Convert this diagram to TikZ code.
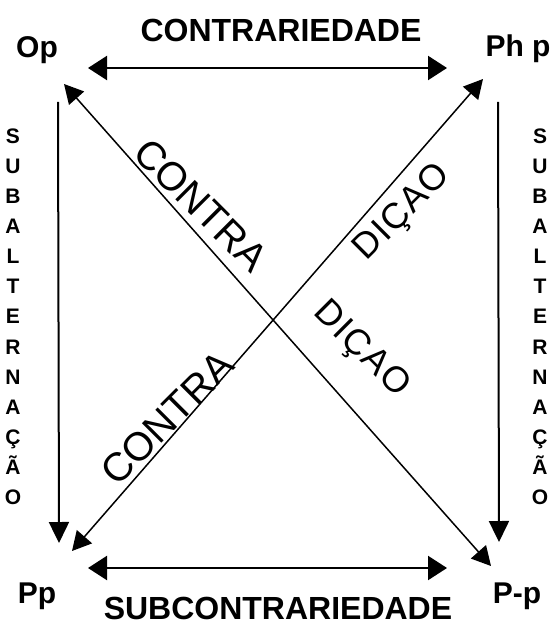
\documentclass[tikz,border=0pt]{standalone}
\usepackage{fontspec}
\setmainfont{Liberation Sans}
\newfontfamily\spacedfont[LetterSpace=4]{Liberation Sans}
\usetikzlibrary{arrows.meta}
\begin{document}
\begin{tikzpicture}[x=1pt,y=-1pt,
  corner/.style={font=\bfseries\fontsize{30}{30}\selectfont, inner sep=0pt, anchor=base},
  relation/.style={font=\bfseries\fontsize{32}{32}\selectfont, inner sep=0pt, anchor=base},
  vletter/.style={font=\bfseries\fontsize{21}{21}\selectfont, inner sep=0pt, anchor=base},
  diagtext/.style={font=\fontsize{40}{40}\selectfont, inner sep=0pt},
  diagtextb/.style={font=\spacedfont\fontsize{36}{36}\selectfont, inner sep=0pt},
  harrow/.style={line width=2.2pt, {Triangle[length=19pt,width=24pt]}-{Triangle[length=19pt,width=24pt]}},
  varrow/.style={line width=2pt, -{Triangle[length=21pt,width=20pt]}},
  darrow/.style={line width=1.5pt, {Triangle[length=19pt,width=20pt]}-{Triangle[length=19pt,width=20pt]}}]
\useasboundingbox (0,0) rectangle (553,620);

% corner propositions
\node[corner] (op) at (37,58) {Op};
\node[corner] (php) at (518,57) {Ph p};
\node[corner] (pp) at (37,603) {Pp};
\node[corner] (pnp) at (517,603) {P-p};

% relation titles
\node[relation] (contr) at (281,42) {CONTRARIEDADE};
\node[relation] (subc) at (278,619) {SUBCONTRARIEDADE};

% arrow ends around the corners
\coordinate (op-r) at (88,68);
\coordinate (php-l) at (447,68);
\coordinate (pp-r) at (88,568);
\coordinate (pnp-l) at (447,568);
\coordinate (op-d) at (58,102);
\coordinate (pp-u) at (59,543);
\coordinate (php-d) at (498,102);
\coordinate (pnp-u) at (499,542);
\coordinate (op-x) at (64,84);
\coordinate (pnp-x) at (491,566);
\coordinate (php-x) at (483,79);
\coordinate (pp-x) at (72,551);

% contrariety and subcontrariety
\draw[harrow] (op-r) -- (php-l);
\draw[harrow] (pp-r) -- (pnp-l);

% subalternation
\draw[varrow] (op-d) -- (pp-u);
\draw[varrow] (php-d) -- (pnp-u);

% contradiction
\draw[darrow] (op-x) -- (pnp-x);
\draw[darrow] (php-x) -- (pp-x);

% diagonal labels
\node[diagtext, rotate=-45] (c1) at (201,205) {CONTRA};
\node[diagtext, rotate=45] (c2) at (167,418) {CONTRA};
\node[diagtextb, rotate=45] (d1) at (403,213) {DIÇAO};
\node[diagtextb, rotate=-45] (d2) at (361,350) {DIÇAO};

% vertical labels
\foreach \l [count=\i from 0] in {S,U,B,A,L,T,E,R,N,A,Ç,Ã,O} {
  \node[vletter] (sl\i) at (13,{143.5+30.08*\i}) {\l};
  \node[vletter] (sr\i) at (540,{143.5+30.08*\i}) {\l};
}
\end{tikzpicture}
\end{document}
